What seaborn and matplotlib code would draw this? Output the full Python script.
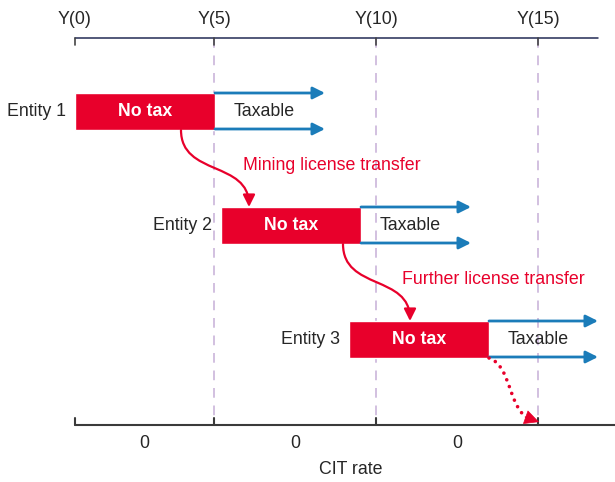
import matplotlib
matplotlib.use('Agg')
import matplotlib.pyplot as plt
from matplotlib.patches import FancyArrowPatch, PathPatch
from matplotlib.path import Path
import seaborn as sns

# Datos del diagrama (coordenadas en píxeles de la figura)
periodos = ['Y(0)', 'Y(5)', 'Y(10)', 'Y(15)']
periodos_x = [75, 214, 376, 538]
tasas_cit = ['0', '0', '0']
entidades = ['Entity 1', 'Entity 2', 'Entity 3']
entidades_y = [111, 225, 339]
inicio_exento = [75, 221, 349]
fin_exento = [215, 361, 489]
fin_gravable = [325, 471, 598]
transferencias = ['Mining license transfer', 'Further license transfer']
transfer_inicio = [(181, 130), (343, 244)]
transfer_fin = [(249, 207), (410, 321)]
transfer_texto = [(243, 165), (402, 279)]

rojo = '#e8002b'
azul = '#1b7cb9'
texto = '#262626'
lila = '#d2c0e0'
tam = 12.8

sns.set_theme(style='white')
plt.rcParams['font.family'] = ['Liberation Sans', 'DejaVu Sans']

fig = plt.figure(figsize=(6.15, 4.82), dpi=100)
ax = fig.add_axes([0, 0, 1, 1])
ax.set_xlim(0, 615)
ax.set_ylim(482, 0)
ax.axis('off')

# Líneas verticales discontinuas
for x in periodos_x[1:]:
    ax.plot([x, x], [38, 425], color=lila, lw=1.4, ls=(0, (5, 4)), zorder=0)

# Eje superior (años)
ax.plot([periodos_x[0], 598], [38, 38], color='#232b55', lw=1.1, zorder=2)
for x, lab in zip(periodos_x, periodos):
    ax.plot([x, x], [38, 45], color='#444444', lw=1.2, zorder=2)
    ax.text(x, 20, lab, ha='center', va='center', fontsize=tam, color=texto)

# Eje inferior (tasa CIT)
ax.plot([periodos_x[0], 615], [425, 425], color='#3a3a3a', lw=1.5, zorder=2)
for x in periodos_x:
    ax.plot([x, x], [425, 418], color='#3a3a3a', lw=1.5, zorder=2)
for i, lab in enumerate(tasas_cit):
    xm = (periodos_x[i] + periodos_x[i + 1]) / 2
    ax.text(xm, 443, lab, ha='center', va='center', fontsize=tam, color=texto)
ax.text(351, 470, 'CIT rate', ha='center', va='center', fontsize=tam, color=texto)

# Barras "No tax" y flechas "Taxable"
anchos = [f - i for i, f in zip(inicio_exento, fin_exento)]
ax.barh(entidades_y, anchos, left=inicio_exento, height=37, color=rojo, zorder=3)
for y, ini, fin, fg, nombre in zip(entidades_y, inicio_exento, fin_exento, fin_gravable, entidades):
    ax.text(ini - 9, y, nombre, ha='right', va='center', fontsize=tam, color=texto)
    ax.text((ini + fin) / 2, y, 'No tax', ha='center', va='center', fontsize=tam,
            color='white', fontweight='bold', zorder=4)
    ax.text(fin + 49, y, 'Taxable', ha='center', va='center', fontsize=tam, color=texto)
    for dy in (-18, 18):
        ax.annotate('', xy=(fg, y + dy), xytext=(fin, y + dy),
                    arrowprops=dict(arrowstyle='-|>', color=azul, lw=2,
                                    mutation_scale=18, shrinkA=0, shrinkB=0), zorder=3)

# Flechas curvas de transferencia
codigos = [Path.MOVETO, Path.CURVE4, Path.CURVE4, Path.CURVE4]
for (x0, y0), (x1, y1), (tx, ty), lab in zip(transfer_inicio, transfer_fin, transfer_texto, transferencias):
    camino = Path([(x0, y0), (x0, (y0 + y1) / 2 + 8), (x1, (y0 + y1) / 2 - 8), (x1, y1)], codigos)
    ax.add_patch(FancyArrowPatch(path=camino, arrowstyle='-|>', mutation_scale=18,
                                 color=rojo, lw=1.6, zorder=3))
    ax.text(tx, ty, lab, ha='left', va='center', fontsize=tam, color=rojo)

# Flecha punteada final
punteada = Path([(489, 358), (512, 366), (508, 410), (530, 419)], codigos)
ax.add_patch(PathPatch(punteada, fill=False, edgecolor=rojo, lw=2.6,
                       ls=(0, (0.01, 2.0)), capstyle='round', zorder=3))
ax.annotate('', xy=(539, 422), xytext=(525, 417),
            arrowprops=dict(arrowstyle='-|>', color=rojo, lw=0.5,
                            mutation_scale=24, shrinkA=0, shrinkB=0), zorder=3)

fig.savefig('out.png', dpi=100)
